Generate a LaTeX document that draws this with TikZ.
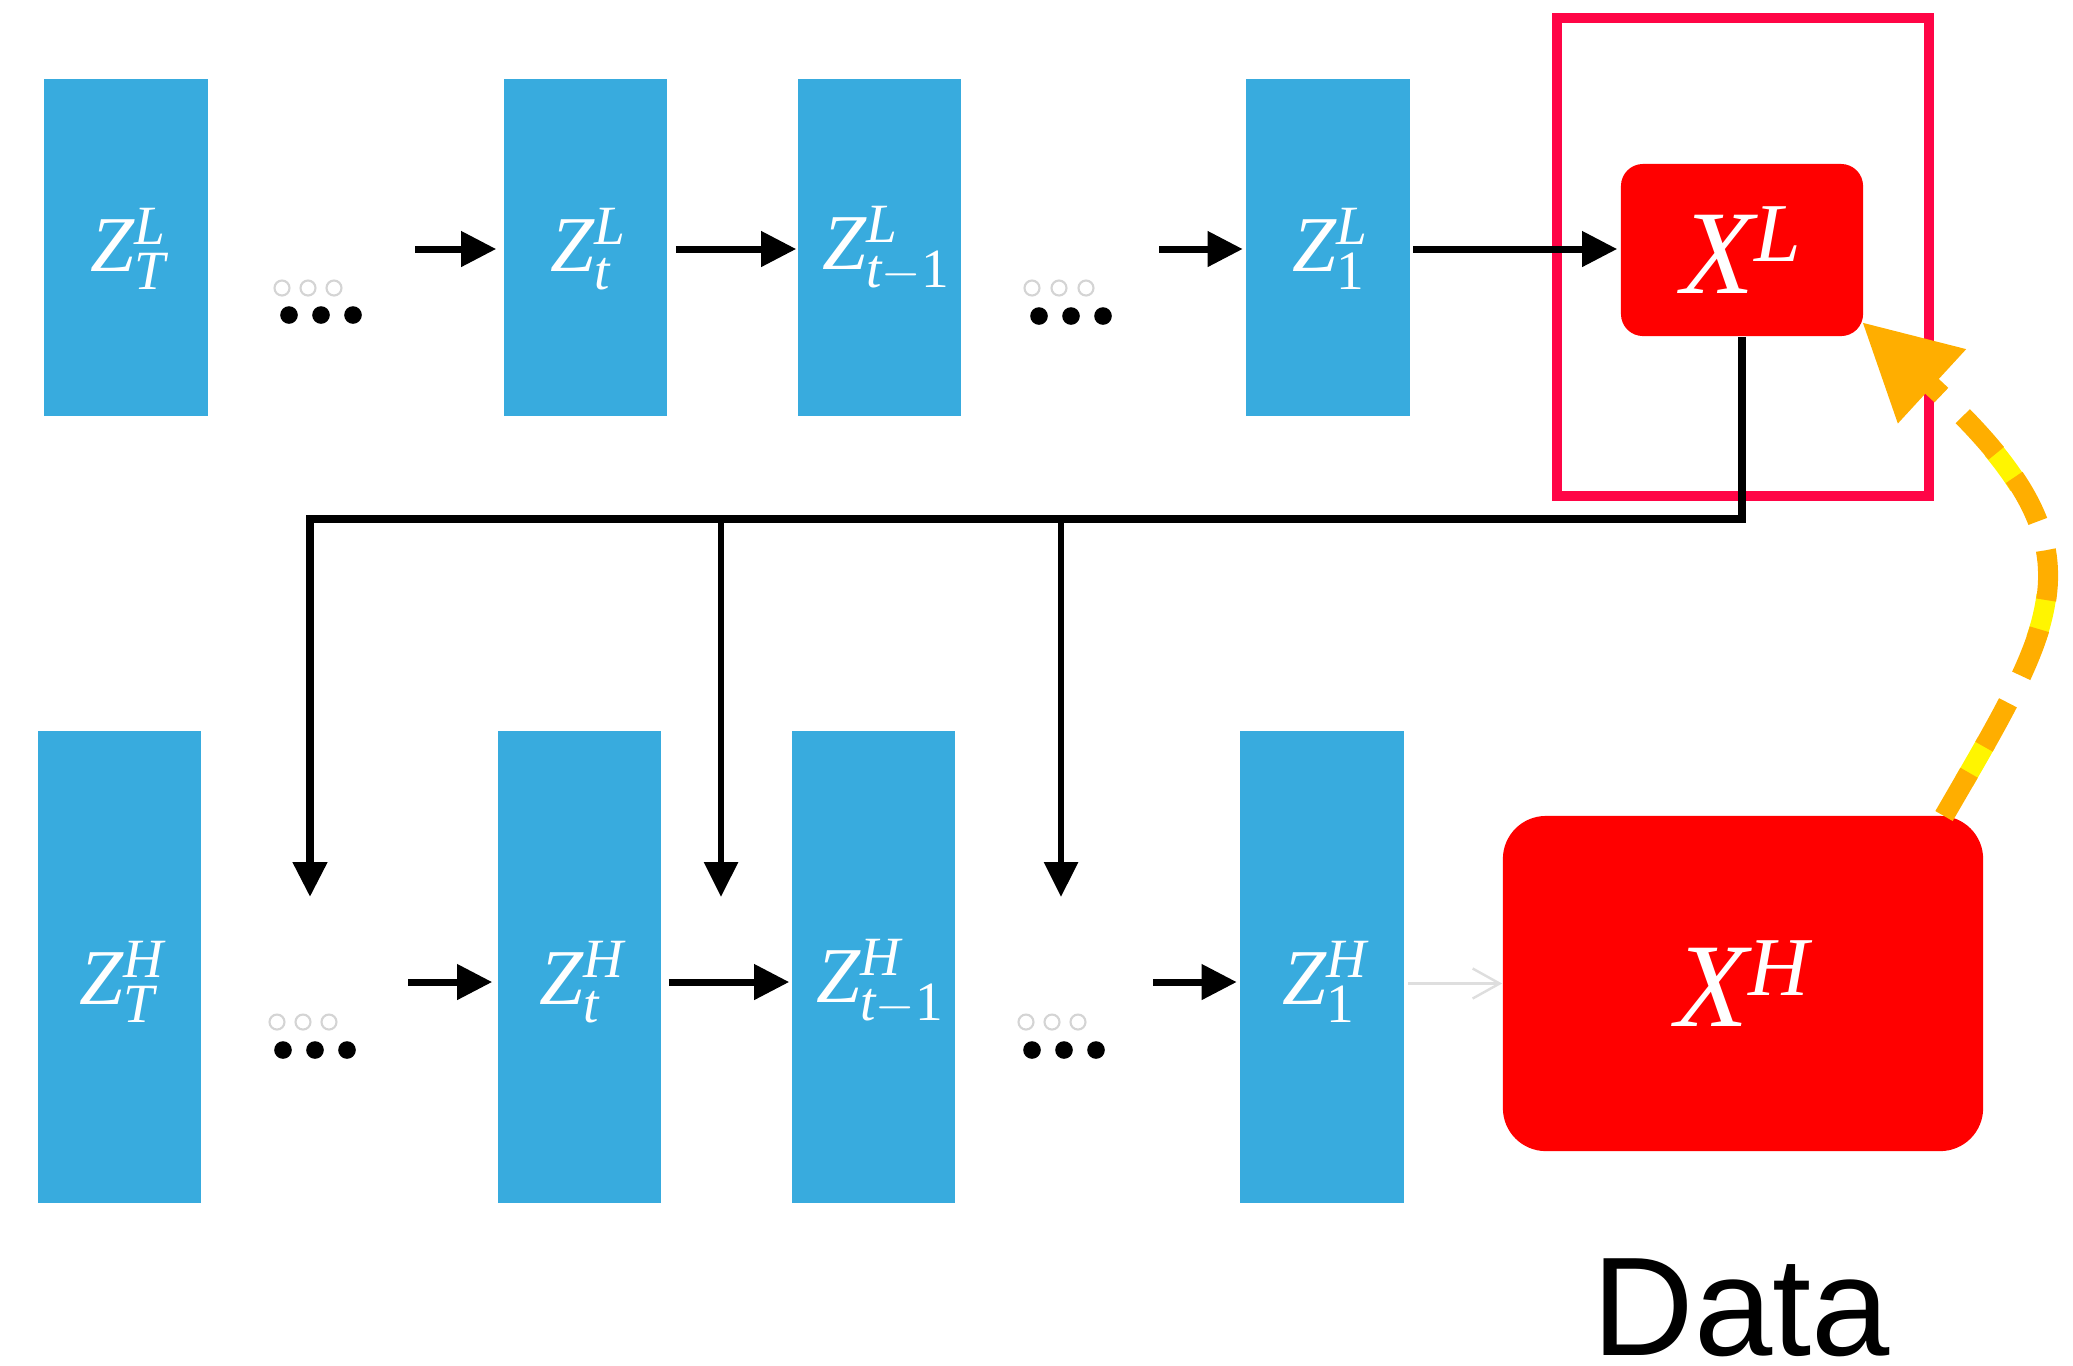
\documentclass[tikz,border=0pt]{standalone}
\usepackage{fontspec}
\setmainfont{Liberation Serif}
\newfontfamily\datafont{Liberation Sans}
\usetikzlibrary{arrows.meta}
\definecolor{zblue}{RGB}{56,171,222}
\definecolor{xred}{RGB}{255,0,0}
\definecolor{framepink}{RGB}{255,5,70}
\definecolor{arcorange}{RGB}{255,174,0}
\definecolor{arcyellow}{RGB}{255,245,0}
\definecolor{ghost}{RGB}{212,212,212}
\definecolor{ghostline}{RGB}{222,222,222}
\begin{document}
\begin{tikzpicture}[x=0.01cm,y=-0.01cm,
  zbox/.style={fill=zblue, inner sep=0pt, minimum width=1.63cm},
  ztop/.style={zbox, minimum height=3.37cm},
  zbot/.style={zbox, minimum height=4.72cm},
  zlab/.style={text=white, inner sep=0pt, font=\fontsize{22.5}{26}\selectfont},
  xbox/.style={fill=xred, text=white, inner sep=0pt, font=\fontsize{34}{38}\selectfont},
  flow/.style={line width=2pt, -{Triangle[length=0.35cm,width=0.34cm]}},
  fbtrunk/.style={line width=2.2pt, line join=miter, -{Triangle[length=0.35cm,width=0.33cm]}},
  fbbranch/.style={line width=1.7pt, -{Triangle[length=0.35cm,width=0.33cm]}},
  faintarrow/.style={ghostline, line width=0.7pt, -{Straight Barb[length=0.27cm,width=0.30cm]}},
  bigdot/.style={fill=black},
  ghostdot/.style={draw=ghost, line width=0.6pt},
]
\useasboundingbox (0,0) rectangle (2073,1365);

\coordinate (rowT) at (0,249);
\coordinate (rowB) at (0,982);

% frame around X^L
\draw[framepink, line width=0.1cm] (1557,18) rectangle (1929,496);

% top row boxes
\node[ztop] (ZTL)  at (126,247.5) {};
\node[ztop] (ZtL)  at (585.5,247.5) {};
\node[ztop] (Zt1L) at (879.5,247.5) {};
\node[ztop] (Z1L)  at (1328,247.5) {};
% bottom row boxes
\node[zbot] (ZTH)  at (119.5,967) {};
\node[zbot] (ZtH)  at (579.5,967) {};
\node[zbot] (Zt1H) at (873.5,967) {};
\node[zbot] (Z1H)  at (1322,967) {};

% labels
\node[zlab] (lZTL)  at ([xshift=0.03cm]ZTL.center |- rowT)  {$\mathit{Z}^{\mathit{L}}_{\mathit{T}}$};
\node[zlab] (lZtL)  at ([xshift=0.03cm]ZtL.center |- rowT)  {$\mathit{Z}^{\mathit{L}}_{\mathit{t}}$};
\node[zlab] (lZt1L) at ([xshift=0.07cm]Zt1L.center |- rowT) {$\mathit{Z}^{\mathit{L}}_{\mathit{t}-\mathrm{1}}$};
\node[zlab] (lZ1L)  at ([xshift=0.03cm]Z1L.center |- rowT)  {$\mathit{Z}^{\mathit{L}}_{\mathrm{1}}$};
\node[zlab] (lZTH)  at ([xshift=0.03cm]ZTH.center |- rowB)  {$\mathit{Z}^{\mathit{H}}_{\mathit{T}}$};
\node[zlab] (lZtH)  at ([xshift=0.03cm]ZtH.center |- rowB)  {$\mathit{Z}^{\mathit{H}}_{\mathit{t}}$};
\node[zlab] (lZt1H) at ([xshift=0.07cm]Zt1H.center |- rowB) {$\mathit{Z}^{\mathit{H}}_{\mathit{t}-\mathrm{1}}$};
\node[zlab] (lZ1H)  at ([xshift=0.03cm]Z1H.center |- rowB)  {$\mathit{Z}^{\mathit{H}}_{\mathrm{1}}$};

% data boxes
\node[xbox, rounded corners=0.22cm, minimum width=2.42cm, minimum height=1.72cm] (XL) at (1742,250) {$\mathit{X}^{\mathit{L}}$};
\node[xbox, rounded corners=0.43cm, minimum width=4.80cm, minimum height=3.35cm] (XH) at (1743,983.5) {$\mathit{X}^{\mathit{H}}$};

% ellipsis dots
\foreach \x in {282,308,334} \draw[ghostdot] (\x,288) circle[radius=0.075cm];
\foreach \x in {289,321,353} \fill[bigdot] (\x,315) circle[radius=0.088cm];
\foreach \x in {1032,1059,1086} \draw[ghostdot] (\x,288) circle[radius=0.075cm];
\foreach \x in {1039,1071,1103} \fill[bigdot] (\x,316) circle[radius=0.088cm];
\foreach \x in {277,303,329} \draw[ghostdot] (\x,1022) circle[radius=0.075cm];
\foreach \x in {283,315,347} \fill[bigdot] (\x,1050) circle[radius=0.088cm];
\foreach \x in {1026,1052,1078} \draw[ghostdot] (\x,1022) circle[radius=0.075cm];
\foreach \x in {1032,1064,1096} \fill[bigdot] (\x,1050) circle[radius=0.088cm];

% top row arrows
\coordinate (aT1) at (415,249);
\coordinate (aT3) at (1159,249);
\draw[flow] (aT1) -- ([xshift=-0.07cm]ZtL.west |- rowT);
\draw[flow] ([xshift=0.08cm]ZtL.east |- rowT) -- ([xshift=-0.01cm]Zt1L.west |- rowT);
\draw[flow] (aT3) -- ([xshift=-0.03cm]Z1L.west |- rowT);
\draw[flow] ([xshift=0.03cm]Z1L.east |- rowT) -- ([xshift=-0.03cm]XL.west |- rowT);

% bottom row arrows
\coordinate (aB1) at (408,982);
\coordinate (aB3) at (1153,982);
\draw[flow] (aB1) -- ([xshift=-0.05cm]ZtH.west |- rowB);
\draw[flow] ([xshift=0.07cm]ZtH.east |- rowB) -- ([xshift=-0.02cm]Zt1H.west |- rowB);
\draw[flow] (aB3) -- ([xshift=-0.03cm]Z1H.west |- rowB);
\draw[faintarrow] ([xshift=0.04cm]Z1H.east |- XH.west) -- (XH.west);

% feedback from X^L to the high-resolution chain
\coordinate (jL) at (310,519);
\coordinate (tL) at (310,897);
\coordinate (j2) at (721,519);
\coordinate (t2) at (721,897);
\coordinate (j3) at (1061,519);
\coordinate (t3) at (1061,897);
\draw[fbtrunk] (XL.south) -- (XL.south |- jL) -- (jL) -- (tL);
\draw[fbbranch] (j2) -- (t2);
\draw[fbbranch] (j3) -- (t3);

% dashed curved arrow from X^H to X^L
\coordinate (oS) at (1944,816);
\coordinate (oE) at (1862,322);
\draw[arcyellow, line width=0.2cm, dash pattern=on 0.45cm off 1.15cm, dash phase=1.2cm, shorten >=0.85cm]
  (oS) .. controls (2062,612) and (2108,548) .. (oE);
\draw[arcorange, line width=0.2cm, dash pattern=on 0.5cm off 0.3cm, -{Triangle[length=0.95cm,width=0.95cm]}]
  (oS) .. controls (2062,612) and (2108,548) .. (oE);

% caption
\node[anchor=base, inner sep=0pt, font=\datafont\fontsize{40}{48}\selectfont] (data) at (1741,1355) {Data};
\end{tikzpicture}
\end{document}
